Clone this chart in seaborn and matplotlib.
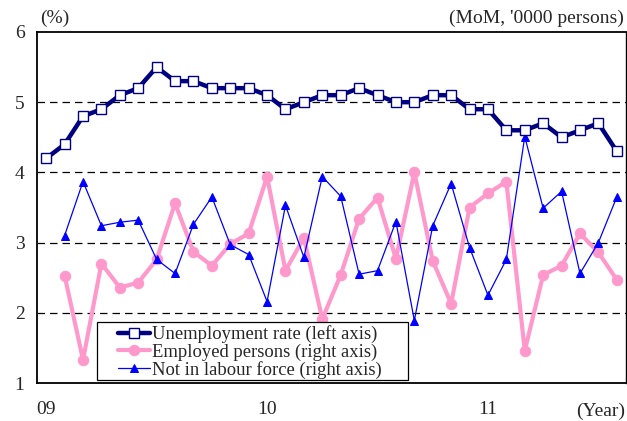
import numpy as np
import pandas as pd
import matplotlib
matplotlib.use("Agg")
import matplotlib.pyplot as plt
from matplotlib.patches import Rectangle
import seaborn as sns

# ---- data (monthly, Jan 2009 - Aug 2011) ----
months = list(range(32))
unemployment = [4.2, 4.4, 4.8, 4.9, 5.1, 5.2, 5.5, 5.3, 5.3, 5.2, 5.2, 5.2,
                5.1, 4.9, 5.0, 5.1, 5.1, 5.2, 5.1, 5.0, 5.0, 5.1, 5.1, 4.9,
                4.9, 4.6, 4.6, 4.7, 4.5, 4.6, 4.7, 4.3]
employed = [np.nan, 2.53, 1.33, 2.70, 2.36, 2.43, 2.76, 3.56, 2.87, 2.67, 2.98, 3.13,
            3.94, 2.60, 3.07, 1.91, 2.54, 3.34, 3.64, 2.77, 4.00, 2.74, 2.13, 3.50,
            3.70, 3.87, 1.46, 2.54, 2.67, 3.13, 2.86, 2.47]
not_in_lf = [np.nan, 3.10, 3.87, 3.24, 3.29, 3.32, 2.76, 2.56, 3.26, 3.65, 2.97, 2.83,
             2.16, 3.53, 2.79, 3.94, 3.66, 2.55, 2.60, 3.30, 1.89, 3.24, 3.84, 2.93,
             2.25, 2.76, 4.51, 3.49, 3.73, 2.56, 3.00, 3.65]
year_labels = ["09", "10", "11"]
year_label_pos = [0, 12, 24]
year_boundaries = [-0.5, 11.5, 23.5]
series_labels = ["Unemployment rate (left axis)",
                 "Employed persons (right axis)",
                 "Not in labour force (right axis)"]

df = pd.DataFrame({"month": months, "unemp": unemployment,
                   "emp": employed, "nilf": not_in_lf})

sns.set_style("white")
plt.rcParams["font.family"] = ["Liberation Serif", "DejaVu Serif"]

FS = 14
fig = plt.figure(figsize=(6.27, 4.21), dpi=100)
ax = fig.add_axes([37/627, 1-383/421, 589/627, 351/421])

NAVY = "#000080"
PINK = "#FF99CC"
BLUE = "#0000FF"

# horizontal dashed grid
for yv in [2, 3, 4, 5]:
    ax.axhline(yv, color="black", lw=0.9, ls=(0, (6, 4)), zorder=1)

sns.lineplot(data=df, x="month", y="emp", ax=ax, color=PINK, lw=3.0,
             marker="o", markersize=7.5, markeredgecolor=PINK,
             markerfacecolor=PINK, zorder=3)
sns.lineplot(data=df, x="month", y="nilf", ax=ax, color=BLUE, lw=0.9,
             marker="^", markersize=6, markeredgecolor=BLUE,
             markerfacecolor=BLUE, zorder=4)
sns.lineplot(data=df, x="month", y="unemp", ax=ax, color=NAVY, lw=3.2,
             marker="s", markersize=6.5, markeredgecolor=NAVY,
             markeredgewidth=1.0, markerfacecolor="white", zorder=5)

ax.set_xlim(-0.5, 31.5)
ax.set_ylim(1, 6)
ax.set_xlabel("")
ax.set_ylabel("")

ax.set_yticks([1, 2, 3, 4, 5, 6])
ax.set_yticklabels(["1", "2", "3", "4", "5", "6"], fontsize=FS)
ax.tick_params(axis="y", length=0, pad=9)

ax.set_xticks(year_boundaries)
ax.set_xticklabels([])
ax.tick_params(axis="x", which="major", direction="in", length=5, width=0.8)
ax.set_xticks(year_label_pos, minor=True)
ax.set_xticklabels(year_labels, minor=True, fontsize=FS)
ax.tick_params(axis="x", which="minor", length=0, pad=13)

for s in ax.spines.values():
    s.set_color("black")
    s.set_linewidth(1.3)
ax.spines["right"].set_linewidth(1.0)

fig.text(40/627, 1-18/421, "(%)", fontsize=FS, ha="left", va="center")
fig.text(624/627, 1-18/421, "(MoM, '0000 persons)", fontsize=FS,
         ha="right", va="center")
fig.text(625/627, 1-411/421, "(Year)", fontsize=FS, ha="right", va="center")

# legend box
box = Rectangle(((97-37)/589, (383-380)/351), 311/589, 58/351,
                transform=ax.transAxes, facecolor="white", edgecolor="black",
                lw=0.9, zorder=9)
ax.add_patch(box)

lines = ax.get_lines()
handles = [l for l in lines if l.get_marker() in ("s", "o", "^")]
order = {"s": 0, "o": 1, "^": 2}
handles = sorted(handles, key=lambda l: order[l.get_marker()])
leg = ax.legend(handles, series_labels, loc="center left",
                bbox_to_anchor=((118-37)/589, (383-352)/351), borderaxespad=0,
                fontsize=13.4, frameon=False, handlelength=1.7,
                handletextpad=0.12, labelspacing=0.0, borderpad=0)
leg.set_zorder(10)

fig.savefig("out.png", dpi=100)
